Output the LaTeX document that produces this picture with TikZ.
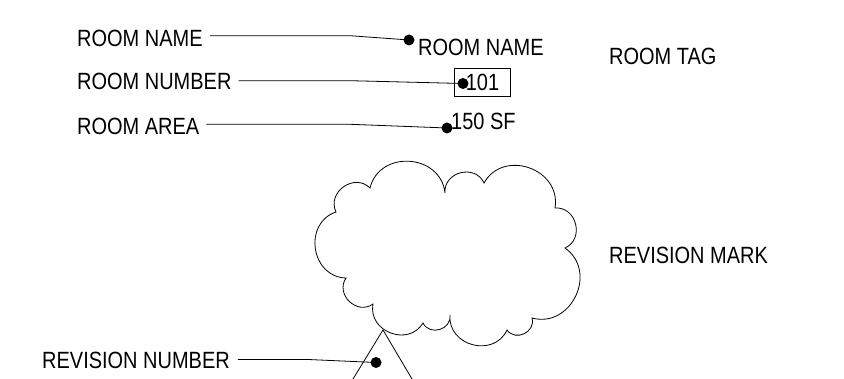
\documentclass[tikz,border=0pt]{standalone}
\usepackage{fontspec}
\setmainfont[FakeStretch=0.85]{Liberation Sans}
\usetikzlibrary{positioning,calc}

\begin{document}
\begin{tikzpicture}[x=1pt,y=1pt,
  lbl/.style={inner sep=0pt,anchor=west,font=\fontsize{23.5}{26}\selectfont},
  leader/.style={line width=0.8pt},
  pindot/.style={circle,fill,inner sep=0pt,minimum size=11pt},
  puff/.style={bend left=80,looseness=1.35}]
\useasboundingbox (0,0) rectangle (844,379);

% callout labels
\node[lbl] (nameLbl) at (77,341) {ROOM NAME};
\node[lbl] (numLbl)  at (77,297.3) {ROOM NUMBER};
\node[lbl] (areaLbl) at (77,252.5) {ROOM AREA};
\node[lbl] (revLbl)  at (42,19) {REVISION NUMBER};

% room tag
\node[lbl] (tagName) at (418,331.5) {ROOM NAME};
\node[draw,line width=0.8pt,inner sep=0pt,minimum width=56pt,minimum height=28.5pt,
      font=\fontsize{23.5}{26}\selectfont] (tagNum) at (482.5,296.5) {101};
\node[lbl] (tagArea) at (451,258) {150 SF};
\node[lbl] (tagTitle) at (609,323) {ROOM TAG};

% revision mark
\node[lbl] (revTitle) at (609,123.5) {REVISION MARK};
\draw[line width=0.8pt] (336,167) to[puff] (370,191) to[puff] (445,186)
  to[puff] (484,196) to[puff] (555,171) to[puff] (565,131) to[puff] (532,61)
  to[puff] (507,49) to[puff] (450,64) to[puff] (423,56) to[puff] (373,75)
  to[puff] (346,101) to[puff] cycle;
\coordinate (apex) at (383,49);
\draw[line width=0.8pt] (353,0) -- (apex) -- (412,0);

% dots
\node[pindot] (nameDot) at (409,339) {};
\node[pindot] (numDot)  at (463,295.5) {};
\node[pindot] (areaDot) at (447,251) {};
\node[pindot] (revDot)  at (376,16.5) {};

% leaders
\coordinate (nameKnee) at (350,343.3);
\coordinate (numKnee)  at (350,298.3);
\coordinate (areaKnee) at (350,254.7);
\coordinate (revKnee)  at (308,19.5);
\draw[leader] ($(nameLbl.east |- nameKnee)+(7,0)$) -- (nameKnee) -- (nameDot.center);
\draw[leader] ($(numLbl.east |- numKnee)+(7,0)$) -- (numKnee) -- (numDot.center);
\draw[leader] ($(areaLbl.east |- areaKnee)+(7,0)$) -- (areaKnee) -- (areaDot.center);
\draw[leader] ($(revLbl.east |- revKnee)+(8,0)$) -- (revKnee) -- (revDot.center);
\end{tikzpicture}
\end{document}
